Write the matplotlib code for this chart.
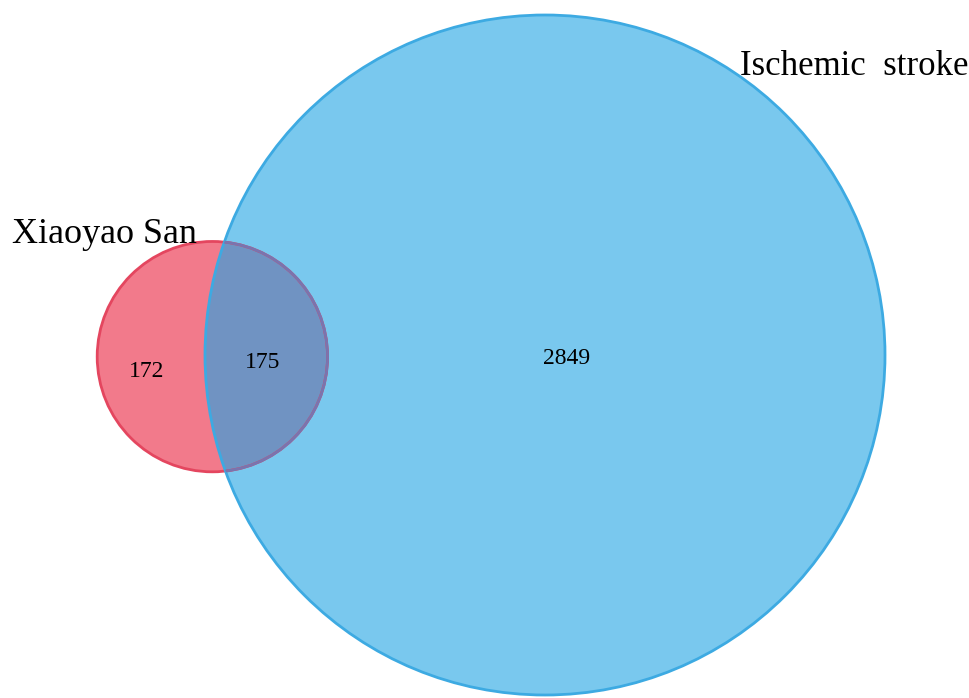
import numpy as np
import matplotlib.pyplot as plt
from matplotlib.patches import Circle

plt.rcParams['font.family'] = ['Liberation Serif', 'DejaVu Serif']

# 数据：两个集合的独有数和交集数
set_names = ['Xiaoyao San', 'Ischemic stroke']
only_counts = [172, 2849]
shared_count = 175

size_a = only_counts[0] + shared_count
size_b = only_counts[1] + shared_count

# 面积比例：半径 = sqrt(n / pi)
r_a = np.sqrt(size_a / np.pi)
r_b = np.sqrt(size_b / np.pi)


def lens_area(d, r1, r2):
    # 两圆相交面积
    if d >= r1 + r2:
        return 0.0
    if d <= abs(r1 - r2):
        return np.pi * min(r1, r2) ** 2
    a1 = r1 ** 2 * np.arccos((d ** 2 + r1 ** 2 - r2 ** 2) / (2 * d * r1))
    a2 = r2 ** 2 * np.arccos((d ** 2 + r2 ** 2 - r1 ** 2) / (2 * d * r2))
    a3 = 0.5 * np.sqrt((-d + r1 + r2) * (d + r1 - r2) * (d - r1 + r2) * (d + r1 + r2))
    return a1 + a2 - a3


# 二分法求圆心距离，使交集面积 = shared_count
lo, hi = abs(r_b - r_a), r_a + r_b
for _ in range(100):
    mid = (lo + hi) / 2
    if lens_area(mid, r_a, r_b) > shared_count:
        lo = mid
    else:
        hi = mid
dist = (lo + hi) / 2

cb = (0.0, 0.0)
ca = (-dist, -0.15)

fig = plt.figure(figsize=(9.69, 6.98), dpi=100)
ax = fig.add_axes([0, 0, 1, 1])

scale = 340 / r_b    # 像素 / 数据单位
ax.set_xlim(-545 / scale, (969 - 545) / scale)
ax.set_ylim(-(698 - 355) / scale, 355 / scale)
ax.set_aspect('equal')
ax.axis('off')

blue = Circle(cb, r_b, facecolor='#79C8EE', edgecolor='none', zorder=1)
red = Circle(ca, r_a, facecolor='#F27A8B', edgecolor='none', zorder=1)
ax.add_patch(blue)
ax.add_patch(red)

# 交集区域
mix = Circle(ca, r_a, facecolor='#7093C2', edgecolor='none', zorder=2)
ax.add_patch(mix)
mix.set_clip_path(blue)

# 边线
ax.add_patch(Circle(ca, r_a, facecolor='none', edgecolor='#E4465F', linewidth=2.0, zorder=3))
edge_b = Circle(cb, r_b, facecolor='none', edgecolor='#3DAAE2', linewidth=2.0, zorder=4)
ax.add_patch(edge_b)
mix_edge = Circle(ca, r_a, facecolor='none', edgecolor='#7A74AE', linewidth=2.0, zorder=5)
ax.add_patch(mix_edge)
mix_edge.set_clip_path(blue)

# 数字
ax.text(ca[0] - r_a * 0.57, -1.5, str(only_counts[0]), fontsize=17, ha='center', va='center', zorder=6)
ax.text(ca[0] + r_a * 0.44, -0.65, str(shared_count), fontsize=17, ha='center', va='center', zorder=6)
ax.text(2.0, -0.3, str(only_counts[1]), fontsize=17, ha='center', va='center', zorder=6)

# 集合名称
fig.text(12 / 969, 1 - 243 / 698, set_names[0], fontsize=26, ha='left', va='baseline')
fig.text(740 / 969, 1 - 75 / 698, set_names[1].replace(' ', '  '), fontsize=25, ha='left', va='baseline')

fig.savefig('out.png', dpi=100)
